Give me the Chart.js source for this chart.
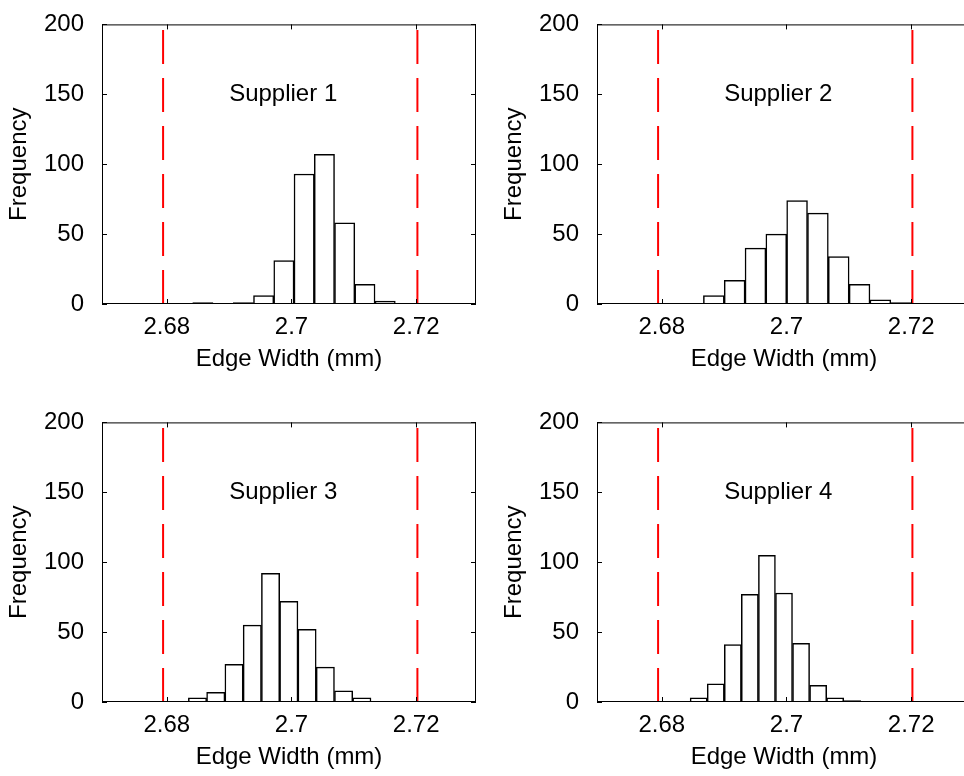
<!DOCTYPE html>
<html>
<head>
<meta charset="utf-8">
<script src="https://cdn.jsdelivr.net/npm/chart.js@4.4.1/dist/chart.umd.min.js"></script>
<style>
  html, body { margin: 0; padding: 0; background: #fff; overflow: hidden; }
  body { width: 964px; height: 776px; position: relative; }
  canvas { position: absolute; }
</style>
</head>
<body>
<canvas id="c1" width="482" height="388" style="left:0;top:0"></canvas>
<canvas id="c2" width="482" height="388" style="left:495px;top:0"></canvas>
<canvas id="c3" width="482" height="388" style="left:0;top:398px"></canvas>
<canvas id="c4" width="482" height="388" style="left:495px;top:398px"></canvas>
<script>
// axis ticks
const xTicks = [2.68, 2.7, 2.72];
const yTicks = [0, 50, 100, 150, 200];

// spec limits (red dashed lines)
const lowerLimit = 2.6794;
const upperLimit = 2.7202;

const suppliers = ['Supplier 1', 'Supplier 2', 'Supplier 3', 'Supplier 4'];

// bin centres and counts
const bins1 = [2.68578, 2.68903, 2.69228, 2.69553, 2.69878, 2.70203, 2.70528, 2.70853, 2.71178, 2.71503];
const counts1 = [1, 0, 1, 6, 31, 93, 107, 58, 14, 2];

const bins2 = [2.68834, 2.69168, 2.69502, 2.69836, 2.70170, 2.70504, 2.70838, 2.71172, 2.71506, 2.71840];
const counts2 = [6, 17, 40, 50, 74, 65, 34, 14, 3, 1];

const bins3 = [2.68492, 2.68785, 2.69078, 2.69371, 2.69664, 2.69957, 2.70250, 2.70543, 2.70836, 2.71129];
const counts3 = [3, 7, 27, 55, 92, 72, 52, 25, 8, 3];

const bins4 = [2.68591, 2.68865, 2.69139, 2.69412, 2.69686, 2.69960, 2.70234, 2.70508, 2.70781, 2.71055];
const counts4 = [3, 13, 41, 77, 105, 78, 42, 12, 3, 1];

Chart.defaults.font.family = '"Liberation Sans", Arial, sans-serif';
Chart.defaults.font.size = 24;
Chart.defaults.color = '#000';

// box, inward ticks and the supplier label
const frame = {
  id: 'frame',
  afterDraw(chart, args, opts) {
    const { ctx, chartArea: a, scales: { x, y } } = chart;
    ctx.save();
    ctx.strokeStyle = '#000';
    ctx.lineWidth = 1;
    ctx.strokeRect(a.left + 0.5, a.top + 0.5, a.width - 1, a.height - 1);
    ctx.beginPath();
    xTicks.forEach(v => {
      const px = Math.round(x.getPixelForValue(v)) + 0.5;
      ctx.moveTo(px, a.bottom); ctx.lineTo(px, a.bottom - 5);
      ctx.moveTo(px, a.top); ctx.lineTo(px, a.top + 5);
    });
    yTicks.forEach(v => {
      const py = Math.round(y.getPixelForValue(v)) + 0.5;
      ctx.moveTo(a.left, py); ctx.lineTo(a.left + 5, py);
      ctx.moveTo(a.right, py); ctx.lineTo(a.right - 5, py);
    });
    ctx.stroke();
    ctx.fillStyle = '#000';
    ctx.font = '24px "Liberation Sans", Arial, sans-serif';
    ctx.textAlign = 'left';
    ctx.textBaseline = 'middle';
    ctx.fillText(opts.label, x.getPixelForValue(2.69), y.getPixelForValue(150));
    ctx.restore();
  }
};

function limitLine(v) {
  return {
    type: 'line',
    data: [{ x: v, y: 0 }, { x: v, y: 200 }],
    borderColor: '#ff0000',
    borderWidth: 2,
    borderDash: [34, 14],
    pointRadius: 0,
    fill: false,
    order: 1
  };
}

function histogram(id, label, bins, counts) {
  new Chart(document.getElementById(id), {
    type: 'bar',
    data: {
      datasets: [
        {
          data: bins.map((b, i) => ({ x: b, y: counts[i] })),
          backgroundColor: '#fff',
          borderColor: '#000',
          borderWidth: 1.5,
          barPercentage: 1,
          categoryPercentage: 1,
          order: 2
        },
        limitLine(lowerLimit),
        limitLine(upperLimit)
      ]
    },
    options: {
      responsive: false,
      animation: false,
      layout: { padding: { left: 0, top: 22, right: 6, bottom: 0 } },
      plugins: { legend: { display: false }, tooltip: { enabled: false }, frame: { label } },
      scales: {
        x: {
          type: 'linear',
          min: 2.6696,
          max: 2.7296,
          offset: false,
          grid: { display: false },
          border: { display: false },
          afterBuildTicks: s => { s.ticks = xTicks.map(v => ({ value: v })); },
          afterFit: s => { s.height = 84; },
          ticks: { padding: 1, maxRotation: 0, autoSkip: false, callback: v => String(v) },
          title: { display: true, text: 'Edge Width (mm)', padding: { top: 0, bottom: 14 } }
        },
        y: {
          min: 0,
          max: 200,
          grid: { display: false },
          border: { display: false },
          afterBuildTicks: s => { s.ticks = yTicks.map(v => ({ value: v })); },
          afterFit: s => { s.width = 102; },
          ticks: { padding: 10, callback: v => String(v) },
          title: { display: true, text: 'Frequency', padding: { top: 5, bottom: 0 } }
        }
      }
    },
    plugins: [frame]
  });
}

histogram('c1', suppliers[0], bins1, counts1);
histogram('c2', suppliers[1], bins2, counts2);
histogram('c3', suppliers[2], bins3, counts3);
histogram('c4', suppliers[3], bins4, counts4);
</script>
</body>
</html>
